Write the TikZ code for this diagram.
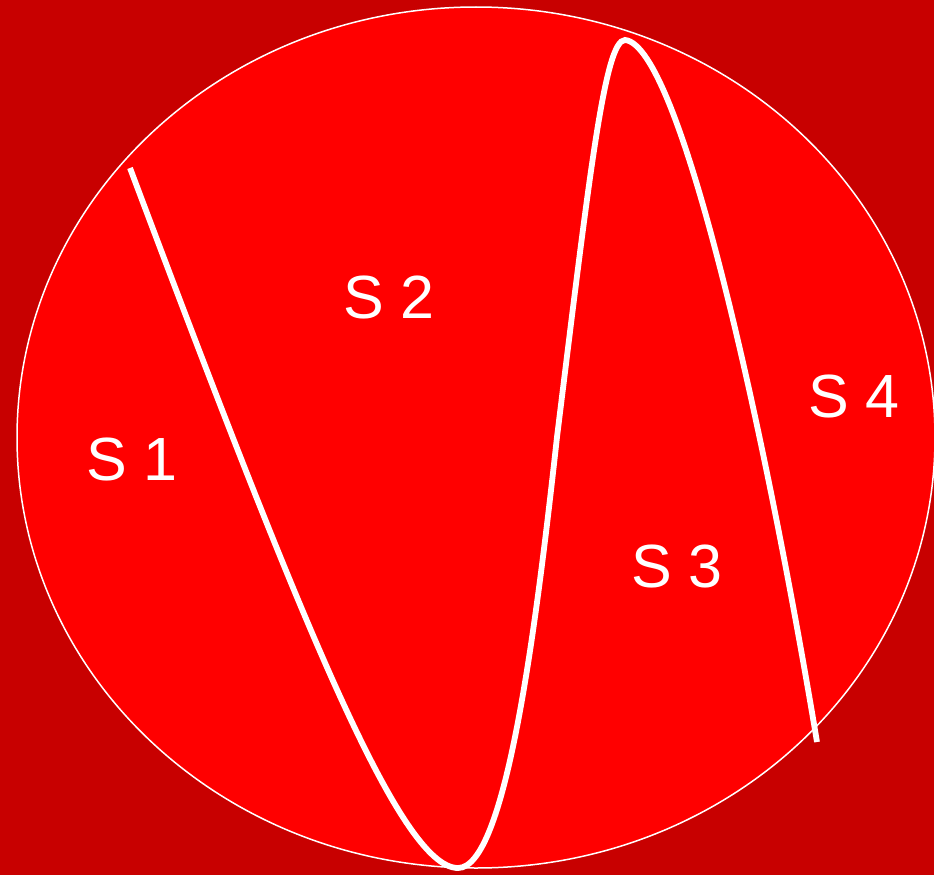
\documentclass[tikz,border=0pt]{standalone}
\usepackage{fontspec}
\setmainfont{Liberation Sans}
\definecolor{bgred}{RGB}{200,0,0}
\definecolor{fillred}{RGB}{255,0,0}
\tikzset{
  lbl/.style={text=white, anchor=base, inner sep=0pt, font=\fontsize{61}{72}\selectfont},
  divider/.style={draw=white, line width=5.8pt, line cap=butt}
}
\begin{document}
\begin{tikzpicture}[x=1pt,y=-1pt]
\fill[bgred] (0,0) rectangle (934,875);
\useasboundingbox (0,0) rectangle (934,875);
\draw[fill=fillred, draw=white, line width=1.5pt] (476,437.5) ellipse [x radius=459, y radius=430.5];
\coordinate (a) at (130,168);
\coordinate (b) at (458,868);
\coordinate (c) at (557,437);
\coordinate (d) at (625,40);
\coordinate (e) at (817,742);
\draw[divider] (a) .. controls (300,620) and (400,868) .. (b)
  .. controls (505,868) and (535,637) .. (c)
  .. controls (590,170) and (605,40) .. (d)
  .. controls (680,45) and (765,430) .. (e);
\node[lbl] (s1) at (132,480) {S 1};
\node[lbl] (s2) at (389,318) {S 2};
\node[lbl] (s3) at (677,587) {S 3};
\node[lbl] (s4) at (854,417) {S 4};
\end{tikzpicture}
\end{document}
